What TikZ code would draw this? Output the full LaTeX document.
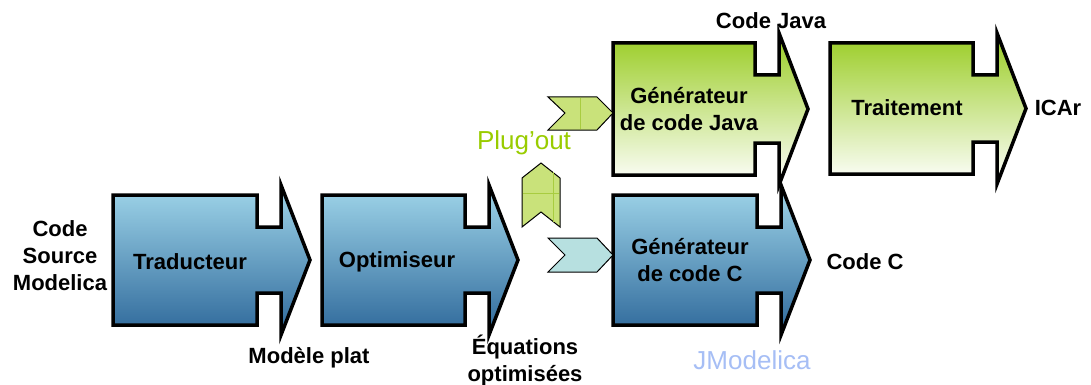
\documentclass[tikz,border=0pt]{standalone}
\usepackage{fontspec}
\setmainfont{Liberation Sans}
\definecolor{bluetop}{RGB}{160,214,234}
\definecolor{bluebot}{RGB}{46,104,154}
\definecolor{greentop}{RGB}{153,204,34}
\definecolor{chevgreen}{RGB}{201,226,122}
\definecolor{chevgrid}{RGB}{168,204,64}
\definecolor{chevblue}{RGB}{183,224,224}
\definecolor{plugcol}{RGB}{153,204,0}
\definecolor{jmodcol}{RGB}{166,190,245}
\newcommand\procarrow[5]{%
  \path[#5] (#1,#2) -- (#3,#2) -- (#3,{#2+32}) -- ({#3+24},{#2+32}) -- ({#3+24},{#2-10})
    -- ({#3+53},{(#2+#4)/2}) -- ({#3+24},{#4+10}) -- ({#3+24},{#4-32}) -- (#3,{#4-32})
    -- (#3,#4) -- (#1,#4) -- cycle;}
\tikzset{
  shapeline/.style={draw=black, line width=3.5pt, line join=miter, miter limit=10},
  bluebox/.style={shapeline, top color=bluetop, bottom color=bluebot},
  greenbox/.style={shapeline, top color=greentop, bottom color=white},
  chev/.style={draw=black, line width=1pt, line join=miter},
  lbl/.style={font=\bfseries\fontsize{22}{27}\selectfont, align=center, inner sep=0pt},
  big/.style={font=\fontsize{26}{30}\selectfont, inner sep=0pt}
}
\begin{document}
\begin{tikzpicture}[x=1pt,y=-1pt]
\useasboundingbox (0,0) rectangle (1091,385);
% process arrows
\procarrow{113}{195}{257}{325}{bluebox}
\procarrow{322}{195}{465}{325}{bluebox}
\procarrow{613}{43}{755}{175}{greenbox}
\procarrow{830}{43}{973}{174}{greenbox}
\procarrow{613}{195}{757}{325}{bluebox}
% chevrons
\path[chev, fill=chevgreen] (548,97) -- (597,97) -- (613,113) -- (597,130) -- (548,130) -- (565,113) -- cycle;
\draw[chevgrid, line width=0.6pt] (580,97.6) -- (580,129.4);
\path[chev, fill=chevgreen] (541,163) -- (560,178) -- (560,227) -- (541,212) -- (522,227) -- (522,178) -- cycle;
\draw[chevgrid, line width=0.6pt] (553,172) -- (553,222);
\draw[chevgrid, line width=0.6pt] (522.6,193) -- (559.4,193);
\path[chev, fill=chevblue] (548,238) -- (597,238) -- (613,255) -- (597,272) -- (548,272) -- (565,255) -- cycle;
% box texts
\node[lbl] (trad) at (190,262) {Traducteur};
\node[lbl] (opt) at (397,262) {Optimiseur};
\node[lbl] (genj) at (689,109) {Générateur\\de code Java};
\node[lbl] (trait) at (907,108) {Traitement};
\node[lbl] (genc) at (690,260) {Générateur\\de code C};
% outside labels
\node[lbl] (src) at (60,256) {Code\\Source\\Modelica};
\node[lbl] (cjava) at (771,21) {Code Java};
\node[lbl] (icar) at (1058,108) {ICAr};
\node[lbl] (codec) at (865,262) {Code C};
\node[lbl] (plat) at (309,358) {Modèle plat};
\node[lbl] (eq) at (525,361) {Équations\\optimisées};
\node[big, text=plugcol] (plug) at (524,143) {Plug’out};
\node[big, text=jmodcol] (jmod) at (752,360) {JModelica};
\end{tikzpicture}
\end{document}
